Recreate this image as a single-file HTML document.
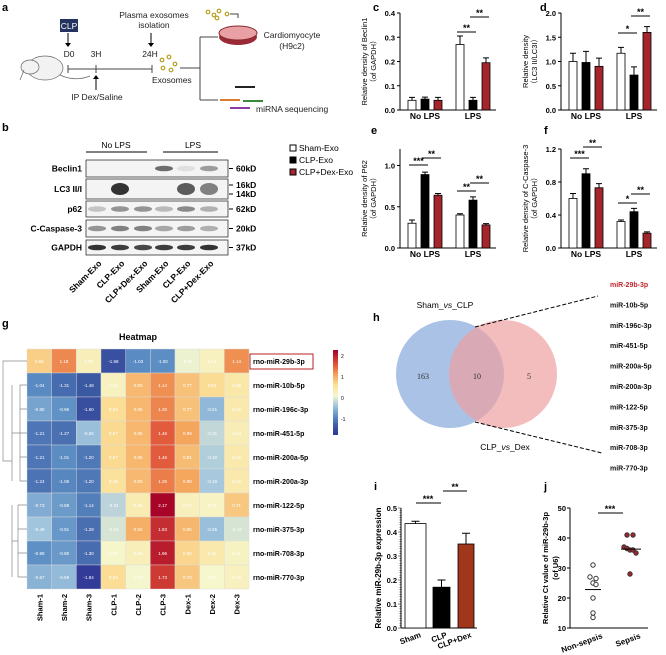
<!DOCTYPE html>
<html><head><meta charset="utf-8"><style>
body{margin:0;background:#fff}
svg{display:block;font-family:"Liberation Sans",Arial,sans-serif}
</style></head><body>
<svg id="fig" width="666" height="655" viewBox="0 0 666 655" xmlns="http://www.w3.org/2000/svg">
<g font-size="8.5" font-weight="bold">
<text x="2" y="11" font-size="11">a</text>
<rect x="60" y="19" width="18" height="13" fill="#23325e"/>
<text x="69" y="29" fill="#fff" text-anchor="middle" font-weight="normal">CLP</text>
<line x1="68" y1="33" x2="68" y2="45" stroke="#000"/><path d="M65,43 L68,47 L71,43Z"/>
<text x="69" y="57" text-anchor="middle" font-weight="normal" fill="#222">D0</text>
<text x="96" y="57" text-anchor="middle" font-weight="normal" fill="#222">3H</text>
<text x="150" y="57" text-anchor="middle" font-weight="normal" fill="#222">24H</text>
<line x1="68" y1="69" x2="152" y2="69" stroke="#444"/>
<line x1="68" y1="65" x2="68" y2="73" stroke="#444"/><line x1="96" y1="65" x2="96" y2="73" stroke="#444"/><line x1="152" y1="65" x2="152" y2="73" stroke="#444"/>
<line x1="96" y1="76" x2="96" y2="90" stroke="#000"/><path d="M93,79 L96,75 L99,79Z"/>
<text x="97" y="100" text-anchor="middle" font-weight="normal" fill="#222">IP Dex/Saline</text>
<text x="154" y="18" text-anchor="middle" font-weight="normal" fill="#222">Plasma exosomes</text>
<text x="154" y="28" text-anchor="middle" font-weight="normal" fill="#222">isolation</text>
<line x1="151" y1="33" x2="151" y2="45" stroke="#000"/><path d="M148,43 L151,47 L154,43Z"/>
<g fill="none" stroke="#b8a020" stroke-width="1.2">
<circle cx="162" cy="60" r="1.8"/><circle cx="169" cy="57" r="1.8"/><circle cx="175" cy="64" r="1.8"/><circle cx="163" cy="68" r="1.8"/><circle cx="171" cy="70" r="1.8"/>
<circle cx="208" cy="12" r="1.8"/><circle cx="214" cy="15" r="1.8"/><circle cx="219" cy="11" r="1.8"/><circle cx="217" cy="18" r="1.8"/><circle cx="227" cy="14" r="1.8"/></g>
<text x="152" y="83" font-weight="normal" fill="#222">Exosomes</text>
<path d="M180,68 H200 M200,37 V100 M200,37 H218 M200,100 H218" stroke="#444" fill="none"/>
<path d="M230,14 H238 V18" stroke="#444" fill="none"/>
<ellipse cx="238" cy="37" rx="19" ry="8" fill="#9b2a37"/>
<ellipse cx="238" cy="33" rx="19" ry="7" fill="#e8a0a4" stroke="#8b2a30"/>
<text x="292" y="38" text-anchor="middle" font-weight="normal" fill="#222">Cardiomyocyte</text>
<text x="292" y="49" text-anchor="middle" font-weight="normal" fill="#222">(H9c2)</text>
<path d="M220,100 H240" stroke="#e07a30" stroke-width="2"/><path d="M243,101 H263" stroke="#3a8a3a" stroke-width="2"/><path d="M230,108 H250" stroke="#8a3aa0" stroke-width="2"/><path d="M235,87 H255" stroke="#222" stroke-width="2"/>
<text x="256" y="112" font-weight="normal" fill="#222">miRNA sequencing</text>
<g>
<ellipse cx="45" cy="68" rx="18" ry="12" fill="#f2f2f2" stroke="#666" stroke-width="0.7"/>
<ellipse cx="30" cy="67" rx="9" ry="7" fill="#f2f2f2" stroke="#666" stroke-width="0.7"/>
<path d="M60,75 Q75,82 90,76" stroke="#666" fill="none" stroke-width="0.7"/><path d="M24,70 L20,80" stroke="#666" stroke-width="0.7"/></g>
</g>
<g font-weight="bold" font-size="8.5">
<text x="2" y="131" font-size="11">b</text>
<text x="116" y="148" text-anchor="middle" font-weight="normal">No LPS</text>
<text x="193" y="148" text-anchor="middle" font-weight="normal">LPS</text>
<line x1="86" y1="152" x2="147" y2="152" stroke="#000"/><line x1="163" y1="152" x2="218" y2="152" stroke="#000"/>
<g id="blots"></g>
<g font-weight="normal" font-size="8.5">
<rect x="290" y="145" width="6" height="6" fill="#fff" stroke="#000"/><text x="299" y="151">Sham-Exo</text>
<rect x="290" y="157" width="6" height="6" fill="#000" stroke="#000"/><text x="299" y="163">CLP-Exo</text>
<rect x="290" y="169" width="6" height="6" fill="#a4262c" stroke="#000"/><text x="299" y="175">CLP+Dex-Exo</text>
</g></g>
<g id="bars"></g>
<g id="heat"></g>
<g>
<text x="373" y="321" font-size="11" font-weight="bold">h</text>
<text x="445" y="308" font-size="8.5" text-anchor="middle">Sham_<tspan font-style="italic">vs</tspan>_CLP</text>
<circle cx="450" cy="374" r="54" fill="#a9c2e6"/>
<circle cx="503" cy="374" r="54" fill="#ee9fa1" fill-opacity="0.7"/>
<g font-family="Liberation Serif,serif" font-size="8" fill="#333" text-anchor="middle"><text x="423" y="379">163</text><text x="477" y="379">10</text><text x="529" y="379">5</text></g>
<text x="505" y="450" font-size="8.5" text-anchor="middle">CLP_<tspan font-style="italic">vs</tspan>_Dex</text>
<path d="M475,327 L598,296 M475,422 L602,453" stroke="#000" stroke-dasharray="4,2"/>
<g id="mirlist" font-size="7" font-weight="bold"></g>
</g>
<g id="pi"></g>
<g id="pj"></g>
</svg>
<script>
const NS="http://www.w3.org/2000/svg";
function mk(p,t,a,txt){const e=document.createElementNS(NS,t);for(const k in a)e.setAttribute(k,a[k]);if(txt!==undefined)e.textContent=txt;p.appendChild(e);return e;}

// ---- data ----
const groupLabels=["No LPS","LPS"];
const cVals=[0.04,0.045,0.04,0.27,0.04,0.195];
const cErr=[0.012,0.008,0.012,0.035,0.012,0.02];
const cTicks=[0,0.1,0.2,0.3,0.4];
const dVals=[1.0,0.98,0.9,1.17,0.72,1.6];
const dErr=[0.17,0.23,0.17,0.12,0.17,0.12];
const dTicks=[0,0.5,1.0,1.5,2.0];
const eVals=[0.3,0.89,0.64,0.4,0.58,0.28];
const eErr=[0.04,0.03,0.02,0.015,0.04,0.015];
const eTicks=[0,0.5,1.0];
const fVals=[0.6,0.9,0.73,0.32,0.44,0.18];
const fErr=[0.06,0.06,0.05,0.02,0.04,0.015];
const fTicks=[0,0.4,0.8,1.2];
const laneLabels=["Sham-Exo","CLP-Exo","CLP+Dex-Exo","Sham-Exo","CLP-Exo","CLP+Dex-Exo"];
const heatRows=["rno-miR-29b-3p","rno-miR-10b-5p","rno-miR-196c-3p","rno-miR-451-5p","rno-miR-200a-5p","rno-miR-200a-3p","rno-miR-122-5p","rno-miR-375-3p","rno-miR-708-3p","rno-miR-770-3p"];
const heatCols=["Sham-1","Sham-2","Sham-3","CLP-1","CLP-2","CLP-3","Dex-1","Dex-2","Dex-3"];
const heatVals=[
[0.65,1.18,0.20,-1.58,-1.03,-1.00,-0.06,0.14,1.14],
[-1.04,-1.31,-1.48,0.13,0.83,1.14,0.77,0.54,0.35],
[-0.80,-0.96,-1.60,0.53,0.85,1.20,0.77,-0.61,0.32],
[-1.21,-1.27,-0.55,0.57,0.85,1.46,0.99,-0.31,0.23],
[-1.21,-1.01,-1.20,0.57,0.85,1.46,0.81,-0.40,0.32],
[-1.24,-1.06,-1.20,0.48,0.83,1.25,0.98,-0.46,0.32],
[-0.73,-0.88,-1.14,-0.34,0.26,2.17,0.17,0.10,0.71],
[-0.49,-0.91,-1.28,-0.19,0.92,1.83,0.86,-0.55,-0.19],
[-0.98,-0.90,-1.30,0.02,0.20,1.96,0.60,0.32,0.11],
[-0.67,-0.59,-1.84,0.53,-0.01,1.73,0.72,0.01,0.15]];
const mirList=["miR-29b-3p","miR-10b-5p","miR-196c-3p","miR-451-5p","miR-200a-5p","miR-200a-3p","miR-122-5p","miR-375-3p","miR-708-3p","miR-770-3p"];
const iCats=["Sham","CLP","CLP+Dex"];
const iVals=[0.435,0.17,0.35];
const iErr=[0.01,0.03,0.045];
const iTicks=[0,0.1,0.2,0.3,0.4,0.5];
const jCats=["Non-sepsis","Sepsis"];
const jNon=[31,27,26.5,25,24.5,20,15,13.5];
const jSep=[41,41,37,36.5,36,36,35,28];
const jTicks=[10,20,30,40,50];

// ---- blots ----
const B=document.getElementById('blots');
const blotRows=[["Beclin1",160,177,["60kD"]],["LC3 II/I",179,199,["16kD","14kD"]],["p62",201,217,["62kD"]],["C-Caspase-3",220,237,["20kD"]],["GAPDH",240,255,["37kD"]]];
const laneX=[97,120,143,164,186,209];
const bandI=[[0,0,0,0.7,0.1,0.45],[0,1,0,0,0.8,0.6],[0.25,0.5,0.5,0.3,0.55,0.35],[0.5,0.6,0.6,0.4,0.45,0.35],[1,0.95,0.9,0.95,0.95,1]];
blotRows.forEach((r,ri)=>{
 let rect=mk(B,'rect',{x:86,y:r[1],width:142,height:r[2]-r[1],fill:'#f4f4f4',stroke:'#333','stroke-width':0.8});
 
 
 mk(B,'text',{x:82,y:(r[1]+r[2])/2+3,'text-anchor':'end'},r[0]);
 laneX.forEach((x,li)=>{const v=bandI[ri][li];if(v>0)mk(B,'ellipse',{cx:x,cy:(r[1]+r[2])/2,rx:9,ry:ri==1?6:2.8,fill:'#111','fill-opacity':v*0.85});});
 r[3].forEach((k,ki)=>{const yy=r[3].length>1?r[1]+6+ki*9:(r[1]+r[2])/2;mk(B,'line',{x1:229,y1:yy,x2:233,y2:yy,stroke:'#000'});mk(B,'text',{x:236,y:yy+3},k);});
});
laneLabels.forEach((l,i)=>mk(B,'text',{x:laneX[i]+5,y:264,'text-anchor':'end',transform:`rotate(-45 ${laneX[i]+5} 264)`},l));

// ---- bar charts c-f ----
const BG=document.getElementById('bars');
const cols=['#fff','#000','#a4262c'];
function barChart(name,letter,lx,ly,ax,y0,yTop,ymax,vals,errs,ticks,yl1,yl2,sigs){
 const g=mk(BG,'g',{'font-size':'8.5'});
 
 
 mk(g,'text',{x:lx,y:ly,'font-size':'11','font-weight':'bold'},letter);
 const Y=v=>y0-(v/ymax)*(y0-yTop);
 const X=(gi,i)=>ax+8+gi*48+i*13;
 mk(g,'line',{x1:ax,y1:yTop,x2:ax,y2:y0,stroke:'#000'});
 mk(g,'line',{x1:ax,y1:y0,x2:ax+96,y2:y0,stroke:'#000'});
 ticks.forEach(t=>{mk(g,'line',{x1:ax-3,y1:Y(t),x2:ax,y2:Y(t),stroke:'#000'});mk(g,'text',{x:ax-5,y:Y(t)+3,'text-anchor':'end','font-weight':'bold','font-size':'7.5'},t.toFixed(1));});
 vals.forEach((v,k)=>{const gi=Math.floor(k/3),i=k%3,x=X(gi,i);
  const r=mk(g,'rect',{x:x,y:Y(v),width:8,height:y0-Y(v),fill:cols[i],stroke:'#000','stroke-width':0.8});
  
  
  const ye=Y(v+errs[k]);mk(g,'path',{d:`M${x+4},${Y(v)} V${ye} M${x+1},${ye} H${x+7}`,stroke:'#000',fill:'none'});});
 groupLabels.forEach((l,gi)=>mk(g,'text',{x:X(gi,1)+4,y:y0+9,'text-anchor':'middle','font-weight':'bold'},l));
 const yc=(y0+yTop)/2;
 mk(g,'text',{x:0,y:0,transform:`translate(${ax-33},${yc}) rotate(-90)`,'text-anchor':'middle','font-size':'7.5'},yl1);
 mk(g,'text',{x:0,y:0,transform:`translate(${ax-24},${yc}) rotate(-90)`,'text-anchor':'middle','font-size':'7.5'},yl2);
 sigs.forEach(s=>{const x1=X(s[0],s[1])+1,x2=X(s[0],s[2])+7;mk(g,'line',{x1:x1,y1:s[3],x2:x2,y2:s[3],stroke:'#000'});mk(g,'text',{x:(x1+x2)/2,y:s[3]-1,'text-anchor':'middle','font-weight':'bold','font-size':'9'},s[4]);});
}
barChart('panel-c-beclin1','c',373,11,400,110,13,0.4,cVals,cErr,cTicks,'Relative density of Beclin1','（of GAPDH）',[[1,0,1,32,'**'],[1,1,2,17,'**']]);
barChart('panel-d-lc3','d',540,11,561,110,13,2.0,dVals,dErr,dTicks,'Relative density','（LC3 II/LC3I）',[[1,0,1,33,'*'],[1,1,2,16,'**']]);
barChart('panel-e-p62','e',371,134,400,248,149,1.2,eVals,eErr,eTicks,'Relative density of P62','（of GAPDH）',[[0,0,1,165,'***'],[0,1,2,158,'**'],[1,0,1,191,'**'],[1,1,2,183,'**']]);
barChart('panel-f-caspase3','f',544,134,561,248,149,1.2,fVals,fErr,fTicks,'Relative density of C-Caspase-3','（of GAPDH）',[[0,0,1,158,'***'],[0,1,2,147,'**'],[1,0,1,203,'*'],[1,1,2,194,'**']]);

// ---- heatmap ----
const H=document.getElementById('heat');
mk(H,'text',{x:2,y:327,'font-size':'11','font-weight':'bold'},'g');
mk(H,'text',{x:138,y:340,'font-size':'9','font-weight':'bold','text-anchor':'middle'},'Heatmap');
const stops=[[-1.9,[49,54,149]],[-1.5,[58,86,162]],[-1,[92,142,196]],[-0.5,[160,196,222]],[0,[246,247,205]],[0.5,[251,225,154]],[1,[245,165,92]],[1.5,[224,85,58]],[2.2,[165,0,38]]];
function col(v){for(let i=0;i<stops.length-1;i++){const a=stops[i],b=stops[i+1];if(v<=b[0]){const t=Math.max(0,(v-a[0])/(b[0]-a[0]));return 'rgb('+a[1].map((c,j)=>Math.round(c+(b[1][j]-c)*t)).join(',')+')';}}return 'rgb(165,0,38)';}
const hx0=27,hy0=349,cw=24.67,ch=24;
heatVals.forEach((row,r)=>row.forEach((v,c)=>{
 const e=mk(H,'rect',{x:hx0+c*cw,y:hy0+r*ch,width:cw,height:ch,fill:col(v),stroke:'#ddd','stroke-width':0.4});
 
 
 mk(H,'text',{x:hx0+c*cw+cw/2,y:hy0+r*ch+ch/2+2,'font-size':'4.5','text-anchor':'middle',fill:'#fff'},v.toFixed(2));
}));
heatRows.forEach((l,r)=>mk(H,'text',{x:253,y:hy0+r*ch+ch/2+3,'font-size':'7','font-weight':'bold'},l));
const rb=mk(H,'rect',{x:250,y:354,width:63,height:15,fill:'none',stroke:'#b22',"stroke-width":1});


heatCols.forEach((l,c)=>{const x=hx0+c*cw+cw/2+3;mk(H,'text',{x:x,y:594,'font-size':'7.5','font-weight':'bold','text-anchor':'end',transform:`rotate(-90 ${x} 594)`},l);});
const RC=r=>hy0+r*ch+ch/2;
mk(H,'path',{d:`M27,${RC(0)} H3 V${(RC(1)+RC(9))/2-20} H12 M12,${RC(1)} V${RC(5)} M12,${RC(6)} V${RC(9)} M12,${(RC(1)+RC(5))/2} H20 M20,${RC(1)} V${RC(5)} M20,${RC(1)} H27 M20,${RC(2)} H27 M20,${RC(3)} H27 M20,${RC(4)} H27 M20,${RC(5)} H27 M12,${(RC(6)+RC(9))/2} H18 M18,${RC(6)} V${RC(9)} M18,${RC(6)} H27 M18,${RC(7)} H27 M18,${RC(8)} H27 M18,${RC(9)} H27 M3,${(RC(1)+RC(9))/2-20} V${RC(0)}`,stroke:'#888',fill:'none','stroke-width':0.7});
const defs=mk(H,'defs',{});const lg=mk(defs,'linearGradient',{id:'cb',x1:0,y1:1,x2:0,y2:0});
stops.forEach(s=>mk(lg,'stop',{offset:((s[0]+1.9)/4.1).toFixed(3),'stop-color':col(s[0])}));
const cb=mk(H,'rect',{x:333,y:350,width:5,height:85,fill:'url(#cb)'});


[[2,356],[1,377],[0,398],[-1,419]].forEach(t=>mk(H,'text',{x:341,y:t[1]+2,'font-size':'5'},String(t[0])));

// ---- mir list ----
const ML=document.getElementById('mirlist');
mirList.forEach((m,i)=>mk(ML,'text',{x:610,y:287+i*20.4,fill:i==0?'#c0272d':'#111'},m));

// ---- panel i ----
const PI=document.getElementById('pi');
mk(PI,'text',{x:374,y:490,'font-size':'11','font-weight':'bold'},'i');
const iy0=628,iyT=508,iax=401;const IY=v=>iy0-v/0.5*(iy0-iyT);
const iX=[405,433,458],iW=[21,17,16],iC=['#fff','#000','#a0371a'];
mk(PI,'line',{x1:iax,y1:iyT,x2:iax,y2:iy0,stroke:'#000'});mk(PI,'line',{x1:iax,y1:iy0,x2:477,y2:iy0,stroke:'#000'});
for(let k=0;k<=50;k++){const v=k/100;mk(PI,'line',{x1:iax-(k%10==0?3:1.5),y1:IY(v),x2:iax,y2:IY(v),stroke:'#000','stroke-width':0.5});}
iTicks.forEach(t=>mk(PI,'text',{x:iax-4,y:IY(t)+3,'text-anchor':'end','font-size':'7.5','font-weight':'bold'},t.toFixed(1)));
iVals.forEach((v,k)=>{const r=mk(PI,'rect',{x:iX[k],y:IY(v),width:iW[k],height:iy0-IY(v),fill:iC[k],stroke:'#000','stroke-width':0.8});
 
 
 const cx=iX[k]+iW[k]/2,ye=IY(v+iErr[k]);mk(PI,'path',{d:`M${cx},${IY(v)} V${ye} M${cx-4},${ye} H${cx+4}`,stroke:'#000',fill:'none'});
 mk(PI,'text',{x:cx+6,y:iy0+9,'text-anchor':'end','font-size':'8','font-weight':'bold',transform:`rotate(-20 ${cx+6} ${iy0+9})`},iCats[k]);});
mk(PI,'path',{d:'M416,503 H441 M443,491 H467',stroke:'#000'});
mk(PI,'text',{x:428,y:502,'text-anchor':'middle','font-size':'9','font-weight':'bold'},'***');
mk(PI,'text',{x:455,y:490,'text-anchor':'middle','font-size':'9','font-weight':'bold'},'**');
mk(PI,'text',{x:0,y:0,transform:'translate(381,568) rotate(-90)','text-anchor':'middle','font-size':'8','font-weight':'bold'},'Relative miR-29b-3p expression');

// ---- panel j ----
const PJ=document.getElementById('pj');
mk(PJ,'text',{x:544,y:490,'font-size':'11','font-weight':'bold'},'j');
const jy0=628,jyT=508,jax=570;const JY=v=>jy0-(v-10)/40*(jy0-jyT);
mk(PJ,'line',{x1:jax,y1:jyT,x2:jax,y2:jy0,stroke:'#000'});mk(PJ,'line',{x1:jax,y1:jy0,x2:648,y2:jy0,stroke:'#000'});
jTicks.forEach(t=>{mk(PJ,'line',{x1:jax-3,y1:JY(t),x2:jax,y2:JY(t),stroke:'#000'});mk(PJ,'text',{x:jax-4,y:JY(t)+3,'text-anchor':'end','font-size':'7.5','font-weight':'bold'},String(t));});
const nOff=[0,-3,3,0,3,0,0,0],sOff=[-3,3,-6,-3,0,3,6,0];
jNon.forEach((v,k)=>{const c=mk(PJ,'circle',{cx:593+nOff[k],cy:JY(v),r:2.2,fill:'#fff',stroke:'#333'});});
jSep.forEach((v,k)=>{const c=mk(PJ,'circle',{cx:630+sOff[k],cy:JY(v),r:2.2,fill:'#a4262c',stroke:'#333'});});
const mean=a=>a.reduce((s,x)=>s+x,0)/a.length;
mk(PJ,'line',{x1:585,y1:JY(mean(jNon)),x2:601,y2:JY(mean(jNon)),stroke:'#000'});
mk(PJ,'line',{x1:621,y1:JY(mean(jSep)),x2:641,y2:JY(mean(jSep)),stroke:'#000'});
mk(PJ,'line',{x1:598,y1:513,x2:623,y2:513,stroke:'#000'});
mk(PJ,'text',{x:610,y:512,'text-anchor':'middle','font-size':'9','font-weight':'bold'},'***');
jCats.forEach((l,k)=>{const x=[603,641][k];mk(PJ,'text',{x:x,y:638,'text-anchor':'end','font-size':'8','font-weight':'bold',transform:`rotate(-20 ${x} 638)`},l);});
mk(PJ,'text',{x:0,y:0,transform:'translate(548,568) rotate(-90)','text-anchor':'middle','font-size':'7.5','font-weight':'bold'},'Relative Ct value of miR-29b-3p');
mk(PJ,'text',{x:0,y:0,transform:'translate(558,568) rotate(-90)','text-anchor':'middle','font-size':'7.5','font-weight':'bold'},'(of U6)');
</script>
</body></html>
